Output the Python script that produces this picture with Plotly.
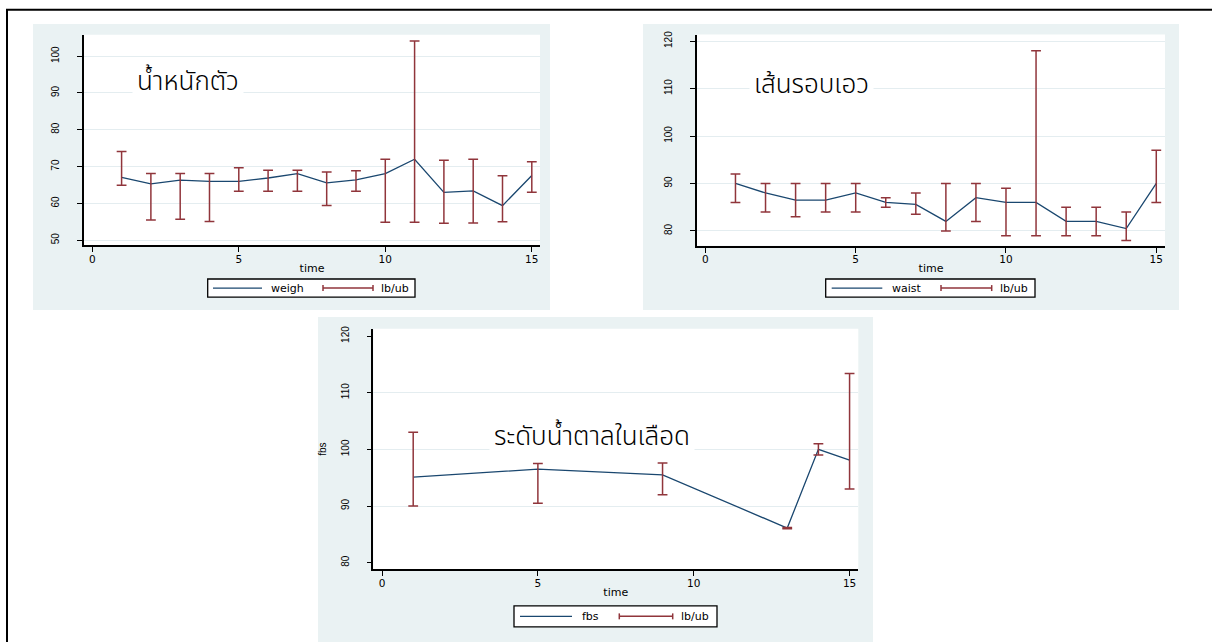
import plotly.graph_objects as go

# ---------------- data ----------------
time = list(range(1, 16))
weigh = [67.1, 65.3, 66.3, 66.0, 66.0, 66.9, 68.1, 65.6, 66.4, 68.1, 72.0, 63.0, 63.4, 59.4, 67.6]
weigh_lb = [64.9, 55.5, 55.7, 55.1, 63.3, 63.3, 63.3, 59.4, 63.3, 54.9, 54.9, 54.6, 54.7, 55.0, 63.0]
weigh_ub = [74.1, 68.1, 68.1, 68.1, 69.7, 69.0, 69.0, 68.5, 68.9, 72.0, 104.1, 71.7, 72.0, 67.5, 71.3]

waist = [90.0, 88.0, 86.5, 86.5, 88.0, 86.0, 85.6, 82.0, 87.0, 86.0, 86.0, 82.0, 82.0, 80.5, 90.0]
waist_lb = [86.0, 84.0, 83.0, 84.0, 84.0, 85.0, 83.5, 80.0, 82.0, 79.0, 79.0, 79.0, 79.0, 78.0, 86.0]
waist_ub = [92.0, 90.0, 90.0, 90.0, 90.0, 87.0, 88.0, 90.0, 90.0, 89.0, 118.0, 85.0, 85.0, 84.0, 97.0]

fbs_time = [1, 5, 9, 13, 14, 15]
fbs = [95.1, 96.5, 95.5, 86.1, 100.0, 98.1]
fbs_lb = [90.0, 90.5, 92.0, 86.0, 99.0, 93.0]
fbs_ub = [103.0, 97.5, 97.6, 86.2, 101.0, 113.4]

x_ticks = [0, 5, 10, 15]
weigh_ticks = [50, 60, 70, 80, 90, 100]
waist_ticks = [80, 90, 100, 110, 120]
fbs_ticks = [80, 90, 100, 110, 120]

titles = ["น้ำหนักตัว", "เส้นรอบเอว", "ระดับน้ำตาลในเลือด"]
ci_label = "lb/ub"

# ---------------- style ----------------
W, H = 1212, 642
BLUE = "#1A476F"
RED = "#90353B"
PANEL = "#EAF2F3"
GRID = "#E4EDF0"
FONT = "Arial, Liberation Sans, sans-serif"
WIDE_FONT = "DejaVu Sans, Arial, sans-serif"
THAI_FONT = "Noto Sans Thai, Noto Sans Thai UI, sans-serif"


def px(x):
    return x / W


def py(y):
    return 1 - y / H


def rcap(t, lb, ub):
    xs, ys = [], []
    for ti, l, u in zip(t, lb, ub):
        xs += [ti, ti, None]
        ys += [l, u, None]
    return xs, ys


fig = go.Figure()

panels = [
    dict(t=time, y=weigh, lb=weigh_lb, ub=weigh_ub, name="weigh", ax=""),
    dict(t=time, y=waist, lb=waist_lb, ub=waist_ub, name="waist", ax="2"),
    dict(t=fbs_time, y=fbs, lb=fbs_lb, ub=fbs_ub, name="fbs", ax="3"),
]

for p in panels:
    fig.add_trace(go.Scatter(
        x=p["t"], y=p["y"], mode="lines", name=p["name"], showlegend=False,
        line=dict(color=BLUE, width=1.3),
        xaxis="x" + p["ax"], yaxis="y" + p["ax"],
    ))
    cx, cy = rcap(p["t"], p["lb"], p["ub"])
    fig.add_trace(go.Scatter(
        x=cx, y=cy, mode="lines+markers", name=ci_label, showlegend=False,
        line=dict(color=RED, width=1.5),
        marker=dict(symbol="line-ew", size=7, color=RED, line=dict(color=RED, width=1.5)),
        xaxis="x" + p["ax"], yaxis="y" + p["ax"],
    ))

axis_common = dict(
    showline=True, linecolor="#000000", linewidth=1.5,
    ticks="outside", ticklen=5, tickcolor="#000000", tickwidth=1,
    zeroline=False,
)

x_common = dict(axis_common, tickmode="array", tickvals=x_ticks, showgrid=False,
                tickfont=dict(family=WIDE_FONT, size=10.5, color="#000000"),
                ticklabelstandoff=-2,
                title=dict(text="time", font=dict(family=WIDE_FONT, size=11, color="#000000"), standoff=0))

y_common = dict(axis_common, tickmode="array", tickangle=-90, ticklabelstandoff=14,
                tickfont=dict(family=FONT, size=10, color="#000000"),
                showgrid=True, gridcolor=GRID, gridwidth=1)

layout = dict(
    width=W, height=H, autosize=False,
    margin=dict(l=0, r=0, t=0, b=0),
    paper_bgcolor="white", plot_bgcolor="white",
    font=dict(family=FONT, size=10, color="#000000"),
    showlegend=False,
    xaxis=dict(x_common, domain=[px(84), px(540)], range=[-0.283, 15.28], anchor="y"),
    yaxis=dict(y_common, domain=[py(243), py(31)], range=[48.57, 105.8], tickvals=weigh_ticks, anchor="x"),
    xaxis2=dict(x_common, domain=[px(697), px(1165)], range=[-0.28, 15.29], anchor="y2"),
    yaxis2=dict(y_common, domain=[py(243.3), py(30.7)], range=[76.86, 121.4], tickvals=waist_ticks, anchor="x2"),
    xaxis3=dict(x_common, domain=[px(373.3), px(858.3)], range=[-0.28, 15.28], anchor="y3"),
    yaxis3=dict(y_common, domain=[py(569), py(326.7)], range=[78.8, 121.3], tickvals=fbs_ticks, anchor="x3",
                showgrid=False,
                minor=dict(tickmode="array", tickvals=fbs_ticks[1:-1], showgrid=True, gridcolor=GRID,
                           gridwidth=1, ticks=""),
                title=dict(text="fbs", font=dict(family=FONT, size=10, color="#000000"), standoff=11)),
)
fig.update_layout(**layout)

shapes = []
# panel backgrounds
for (x0, y0, x1, y1) in [(33, 20, 550, 308), (643, 20, 1179, 308), (318, 315, 873, 650)]:
    shapes.append(dict(type="rect", xref="paper", yref="paper", x0=px(x0), x1=px(x1), y0=py(y1), y1=py(y0),
                       fillcolor=PANEL, line=dict(width=0), layer="below"))
# white plot regions
for ax in ["", "2", "3"]:
    shapes.append(dict(type="rect", xref="x" + ax + " domain", yref="y" + ax + " domain", x0=0, x1=1, y0=0, y1=1,
                       fillcolor="white", line=dict(width=0), layer="below"))
# outer frame (left and top edges are the visible ones)
shapes.append(dict(type="line", xref="paper", yref="paper", x0=px(7), x1=px(7), y0=-0.05, y1=py(5.7),
                   line=dict(color="#000000", width=2)))
shapes.append(dict(type="line", xref="paper", yref="paper", x0=px(6), x1=1.05, y0=py(5.7), y1=py(5.7),
                   line=dict(color="#000000", width=2)))

# legends, Stata style: boxed row with line sample + capped-range sample
legend_boxes = [
    dict(box=(207.7, 276.7, 415, 295), line=(213, 262), t1x=270, red=(323, 373), t2x=380),
    dict(box=(825.7, 276.7, 1035, 295), line=(831.7, 882.3), t1x=890.7, red=(941, 991.7), t2x=999.3),
    dict(box=(514, 605.7, 717, 626.7), line=(520, 572), t1x=581, red=(619.3, 672.7), t2x=680.3),
]
for lg, p in zip(legend_boxes, panels):
    bx0, by0, bx1, by1 = lg["box"]
    cyy = (by0 + by1) / 2
    shapes.append(dict(type="rect", xref="paper", yref="paper", x0=px(bx0), x1=px(bx1), y0=py(by1), y1=py(by0),
                       fillcolor="white", line=dict(color="#000000", width=1.3)))
    shapes.append(dict(type="line", xref="paper", yref="paper", x0=px(lg["line"][0]), x1=px(lg["line"][1]),
                       y0=py(cyy), y1=py(cyy), line=dict(color=BLUE, width=1.3)))
    rx0, rx1 = lg["red"]
    shapes.append(dict(type="line", xref="paper", yref="paper", x0=px(rx0), x1=px(rx1),
                       y0=py(cyy), y1=py(cyy), line=dict(color=RED, width=1.5)))
    for rx in (rx0, rx1):
        shapes.append(dict(type="line", xref="paper", yref="paper", x0=px(rx), x1=px(rx),
                           y0=py(cyy - 3), y1=py(cyy + 3), line=dict(color=RED, width=1.5)))
    fig.add_annotation(x=px(lg["t1x"]), y=py(cyy), xref="paper", yref="paper", text=p["name"],
                       showarrow=False, xanchor="left", yanchor="middle", borderpad=0,
                       font=dict(family=WIDE_FONT, size=11, color="#000000"))
    fig.add_annotation(x=px(lg["t2x"]), y=py(cyy), xref="paper", yref="paper", text=ci_label,
                       showarrow=False, xanchor="left", yanchor="middle", borderpad=0,
                       font=dict(family=WIDE_FONT, size=11, color="#000000"))

fig.update_layout(shapes=shapes)

# panel titles (text placed in data coordinates, like Stata's text())
ann_pos = [("x", "y", 3.27, 93.0), ("x2", "y2", 3.53, 110.7), ("x3", "y3", 6.73, 102.15)]
for (xr, yr, ax_, ay_), txt in zip(ann_pos, titles):
    fig.add_annotation(x=ax_, y=ay_, xref=xr, yref=yr, text=txt, showarrow=False,
                       font=dict(family=THAI_FONT, size=26, color="#000000", weight=300),
                       bgcolor="white", borderpad=4, xanchor="center", yanchor="middle")

fig.write_html("out.html")
